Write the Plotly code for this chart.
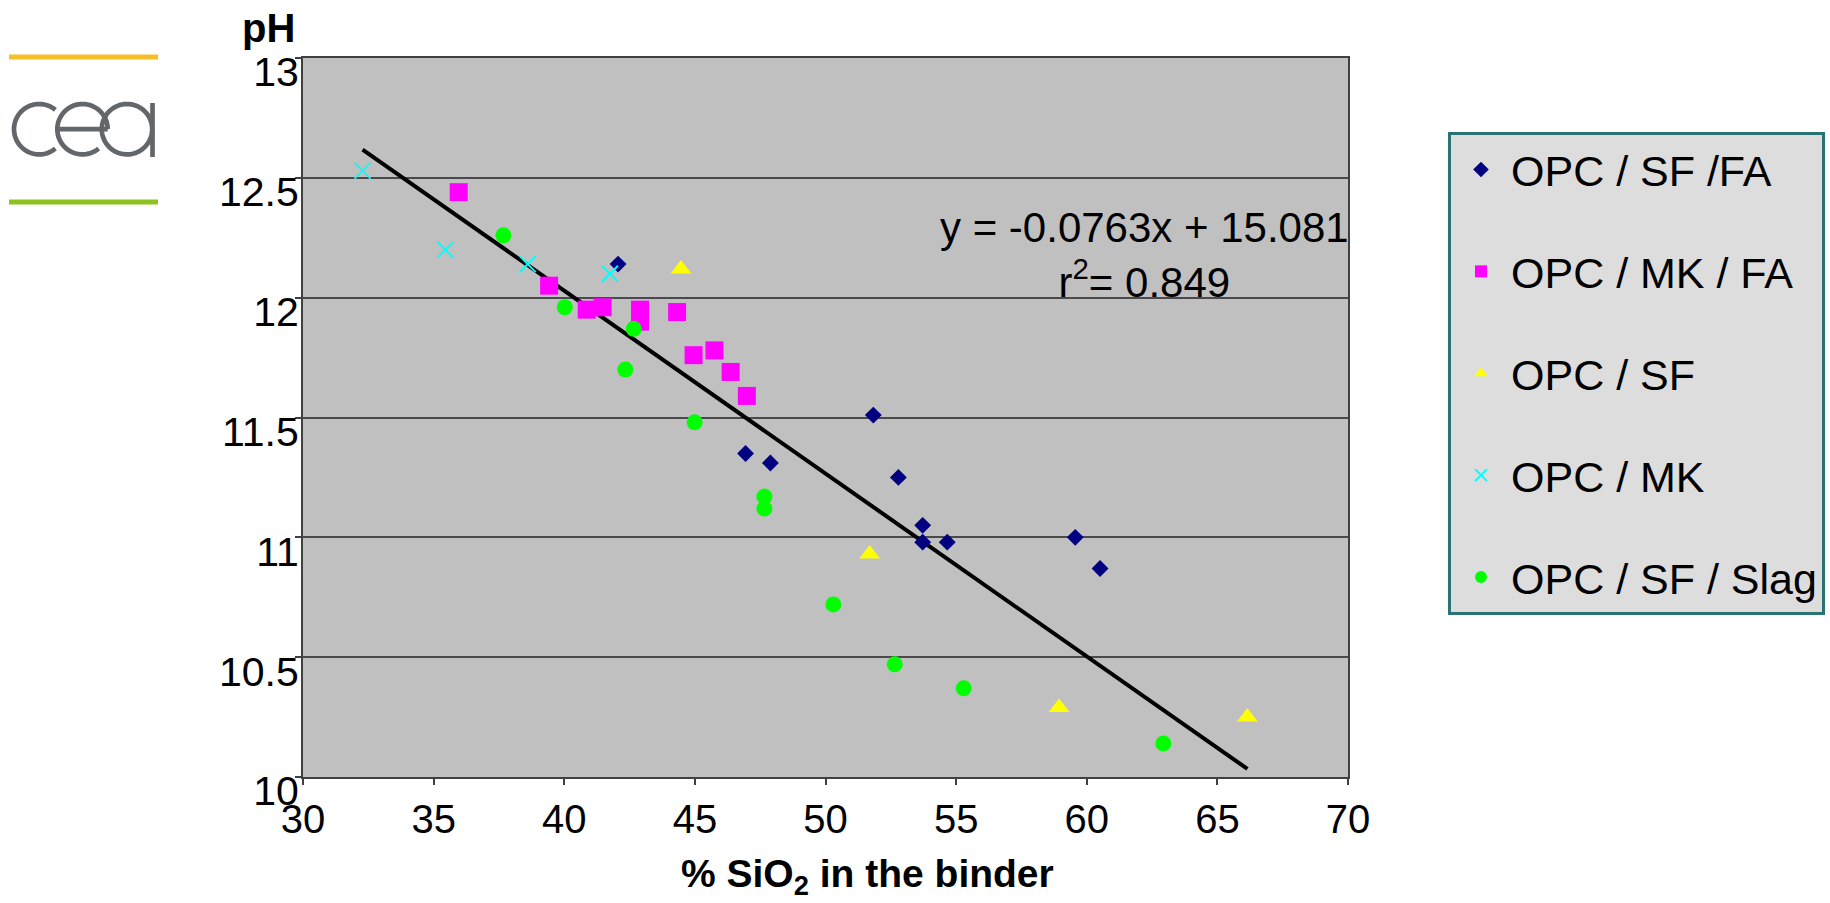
import numpy as np
import plotly.graph_objects as go

# ---- measured data: % SiO2 in the binder vs. pH ----
sf_fa_x = [42.06, 51.83, 46.94, 47.89, 52.79, 53.72, 53.72, 54.66, 59.56, 60.51]
sf_fa_y = [12.14, 11.51, 11.35, 11.31, 11.25, 11.05, 10.98, 10.98, 11.00, 10.87]

mk_fa_x = [35.96, 39.42, 40.86, 41.47, 42.90, 42.90, 44.32, 44.95, 45.75, 46.37, 46.99]
mk_fa_y = [12.44, 12.05, 11.95, 11.96, 11.95, 11.90, 11.94, 11.76, 11.78, 11.69, 11.59]

sf_x = [44.47, 51.69, 58.94, 66.15]
sf_y = [12.12, 10.93, 10.29, 10.25]

mk_x = [32.28, 35.45, 38.60, 41.75]
mk_y = [12.53, 12.20, 12.14, 12.10]

slag_x = [37.67, 40.02, 42.66, 42.34, 44.99, 47.66, 47.66, 50.30, 52.65, 55.29, 62.93]
slag_y = [12.26, 11.96, 11.87, 11.70, 11.48, 11.17, 11.12, 10.72, 10.47, 10.37, 10.14]

# linear fit reported on the chart
slope, intercept, r2 = -0.0763, 15.081, 0.849

x_ticks = [30, 35, 40, 45, 50, 55, 60, 65, 70]
y_ticks = [10, 10.5, 11, 11.5, 12, 12.5, 13]

FONT = "Arial, Liberation Sans, sans-serif"
W, H = 1830, 903
L, R, T, B = 303, 1348, 58, 777  # plot area in pixels


def px(x):
    return (x - L) / (R - L)


def py(y):
    return (B - y) / (B - T)


fig = go.Figure()

series = [
    ("OPC / SF /FA", sf_fa_x, sf_fa_y, dict(symbol="diamond", size=13, color="#000080")),
    ("OPC / MK / FA", mk_fa_x, mk_fa_y, dict(symbol="square", size=18, color="#ff00ff")),
    ("OPC / SF", sf_x, sf_y, dict(symbol="triangle-up", size=18, color="#ffff00")),
    ("OPC / MK", mk_x, mk_y, dict(symbol="x-thin", size=16, color="#00ffff",
                                  line=dict(color="#00ffff", width=2))),
    ("OPC / SF / Slag", slag_x, slag_y, dict(symbol="circle", size=16, color="#00ff00")),
]

# regression line over the span of all samples
all_x = sf_fa_x + mk_fa_x + sf_x + mk_x + slag_x
fit_x = np.array([min(all_x), max(all_x)])
fit_y = slope * fit_x + intercept
fig.add_trace(go.Scatter(x=fit_x, y=fit_y, mode="lines",
                         line=dict(color="black", width=4),
                         showlegend=False, hoverinfo="skip"))

for i, (name, xs, ys, mk) in enumerate(series):
    fig.add_trace(go.Scatter(x=xs, y=ys, mode="markers", name=name,
                             legendgroup=f"g{i}", marker=mk))

# ---- cea logo drawn with shapes ----
shapes = []
shapes.append(dict(type="line", xref="paper", yref="paper",
                   x0=px(9), x1=px(158), y0=py(57), y1=py(57),
                   line=dict(color="#f6be28", width=5)))
shapes.append(dict(type="line", xref="paper", yref="paper",
                   x0=px(9), x1=px(158), y0=py(202), y1=py(202),
                   line=dict(color="#8bc31f", width=5)))


def arc_path(cx, cy, r, a0, a1, n=60):
    ang = np.radians(np.linspace(a0, a1, n))
    xs = cx + r * np.cos(ang)
    ys = cy - r * np.sin(ang)
    pts = [f"{px(a):.5f},{py(b):.5f}" for a, b in zip(xs, ys)]
    return "M" + " L".join(pts)


grey = "#63676b"
rr = 25.2
cy0 = 129.2
logo_paths = [
    arc_path(39.2, cy0, rr, 50, 310),                     # c
    arc_path(82.5, cy0, rr, 0, 310),                      # e bowl
    f"M{px(82.5 - rr):.5f},{py(cy0):.5f} L{px(82.5 + rr):.5f},{py(cy0):.5f}",  # e bar
    arc_path(127.0, cy0, rr, 0, 360, 90),                 # a bowl
    f"M{px(152.5):.5f},{py(103):.5f} L{px(152.5):.5f},{py(157):.5f}",  # a stem
]
for p in logo_paths:
    shapes.append(dict(type="path", xref="paper", yref="paper", path=p,
                       line=dict(color=grey, width=4.7)))

annotations = [
    dict(text="<b>pH</b>", xref="paper", yref="paper", x=px(268), y=py(28),
         xanchor="center", yanchor="middle", showarrow=False,
         font=dict(family=FONT, size=40, color="black")),
    dict(text="<b>% SiO<sub>2</sub> in the binder</b>", xref="paper", yref="paper",
         x=px(867), y=py(876), xanchor="center", yanchor="middle", showarrow=False,
         font=dict(family=FONT, size=39, color="black")),
    dict(text=f"y = {slope}x + {intercept}<br>r<sup>2</sup>= {r2}",
         xref="x", yref="y", x=62.2, y=12.178, xanchor="center", yanchor="middle",
         align="center", showarrow=False,
         font=dict(family=FONT, size=42, color="black")),
]

fig.update_layout(
    width=W, height=H,
    margin=dict(l=L, r=W - R, t=T, b=H - B, autoexpand=False),
    paper_bgcolor="white",
    plot_bgcolor="#c0c0c0",
    font=dict(family=FONT, color="black"),
    showlegend=True,
    legend=dict(
        x=px(1448), y=py(132), xanchor="left", yanchor="top",
        bgcolor="#dddddd", bordercolor="#2a7373", borderwidth=3,
        font=dict(family=FONT, size=43, color="black"),
        tracegroupgap=43, itemwidth=50, itemsizing="constant",
    ),
    shapes=shapes,
    annotations=annotations,
)

fig.update_xaxes(
    range=[30, 70], tickvals=x_ticks, ticktext=[str(v) for v in x_ticks],
    showgrid=False, zeroline=False,
    showline=True, linecolor="#404040", linewidth=2, mirror=True,
    ticks="outside", ticklen=6, tickcolor="#404040", tickwidth=1.5,
    tickfont=dict(family=FONT, size=40, color="black"),
)
fig.update_yaxes(
    range=[10, 13], tickvals=y_ticks, ticktext=[f"{v:g}" for v in y_ticks],
    showgrid=True, gridcolor="#4a4a4a", gridwidth=1.5, zeroline=False,
    showline=True, linecolor="#404040", linewidth=2, mirror=True,
    ticks="outside", ticklen=6, tickcolor="#404040", tickwidth=1.5,
    tickfont=dict(family=FONT, size=41, color="black"),
    ticklabelshift=14, ticklabelstandoff=-12,
)

fig.write_html("out.html")
